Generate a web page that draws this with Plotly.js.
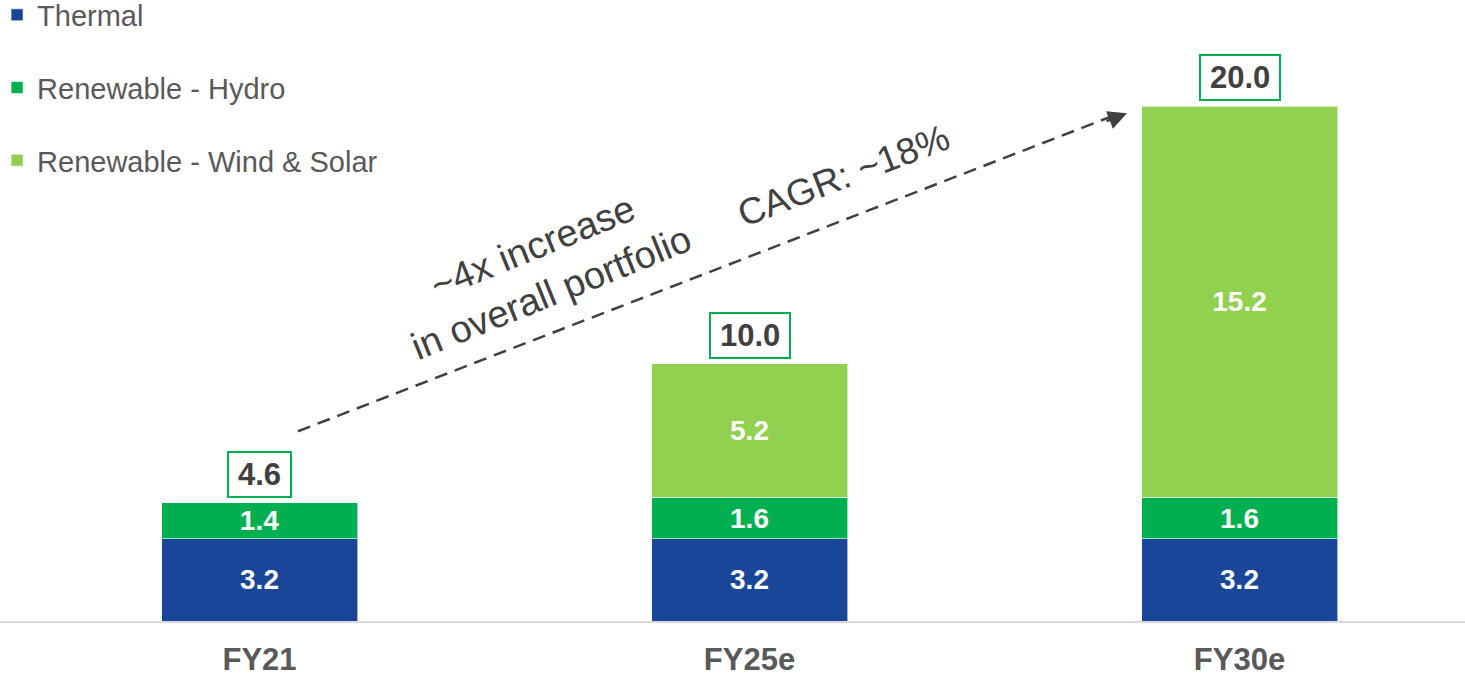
<!DOCTYPE html>
<html>
<head>
<meta charset="utf-8">
<script src="https://cdn.plot.ly/plotly-3.0.1.min.js"></script>
<style>
  html, body { margin: 0; padding: 0; background: #ffffff; }
  #chart { width: 1465px; height: 677px; }
</style>
</head>
<body>
<div id="chart"></div>
<script>
// ---- Data ----
const categories = ["FY21", "FY25e", "FY30e"];
const thermal = [3.2, 3.2, 3.2];
const hydro = [1.4, 1.6, 1.6];
const windSolar = [0, 5.2, 15.2];
const totals = [4.6, 10.0, 20.0];
const seriesNames = ["Thermal", "Renewable - Hydro", "Renewable - Wind & Solar"];
const seriesColors = ["#1A469A", "#00B050", "#92D050"];

const FONT = "'Liberation Sans', Arial, sans-serif";

function labels(arr) { return arr.map(v => v > 0 ? v.toFixed(1) : ""); }

const seriesValues = [thermal, hydro, windSolar];
const traces = seriesValues.map((vals, i) => ({
  type: "bar",
  name: seriesNames[i],
  legendgroup: "g" + i,
  x: categories,
  y: vals,
  width: 0.4,
  marker: { color: seriesColors[i], line: { color: "rgba(255,255,255,0.6)", width: 1 } },
  text: labels(vals),
  textposition: "inside",
  insidetextanchor: "middle",
  constraintext: "none",
  textfont: { family: FONT, size: 28, color: "#ffffff", weight: "bold" },
  hoverinfo: "skip"
}));

const pad = "<span style='font-size:18px'> </span>";
const annotations = categories.map((c, i) => ({
  x: c, y: totals[i], xref: "x", yref: "y",
  text: pad + "<b>" + totals[i].toFixed(1) + "</b>" + pad,
  showarrow: false,
  yanchor: "bottom",
  yshift: 5,
  font: { family: FONT, size: 31, color: "#404040" },
  bordercolor: "#00B050",
  borderwidth: 2,
  borderpad: 4,
  bgcolor: "#ffffff"
}));

// arrow head
annotations.push({
  x: 1.7704, y: 19.72, xref: "x", yref: "y",
  ax: -22, ay: 8.5, axref: "pixel", ayref: "pixel",
  text: "", showarrow: true,
  arrowhead: 2, arrowsize: 1.5, arrowwidth: 2.5, arrowcolor: "#404040"
});
// rotated texts
annotations.push({
  x: 0.5762, y: 13.65, xref: "x", yref: "y",
  text: "~4x increase<br>in overall portfolio",
  showarrow: false, textangle: -22,
  font: { family: FONT, size: 38, color: "#404040" }
});
annotations.push({
  x: 1.1928, y: 17.3, xref: "x", yref: "y",
  text: "CAGR: ~18%",
  showarrow: false, textangle: -21,
  font: { family: FONT, size: 37, color: "#404040" }
});

const layout = {
  width: 1465, height: 677,
  margin: { l: 0, r: 0, t: 0, b: 56, autoexpand: false },
  paper_bgcolor: "#ffffff",
  plot_bgcolor: "#ffffff",
  barmode: "stack",
  showlegend: true,
  legend: {
    x: -0.002, y: 1.017, xanchor: "left", yanchor: "top",
    traceorder: "grouped",
    tracegroupgap: 32,
    font: { family: FONT, size: 29, color: "#595959" },
    bgcolor: "rgba(0,0,0,0)"
  },
  xaxis: {
    type: "category",
    range: [-0.5296, 2.4602],
    showgrid: false, zeroline: false,
    showline: true, linecolor: "#D9D9D9", linewidth: 2,
    ticks: "",
    ticklabelstandoff: 10,
    tickfont: { family: FONT, size: 31, color: "#595959", weight: "bold" },
    fixedrange: true
  },
  yaxis: {
    range: [0, 24.12],
    visible: false,
    fixedrange: true
  },
  shapes: [{
    type: "line", xref: "x", yref: "y",
    x0: 0.0786, y0: 7.37, x1: 1.735, y1: 19.57,
    line: { color: "#404040", width: 2.5, dash: "13px,8px" }
  }],
  annotations: annotations
};

Plotly.newPlot("chart", traces, layout, { displayModeBar: false, staticPlot: true });
</script>
</body>
</html>
